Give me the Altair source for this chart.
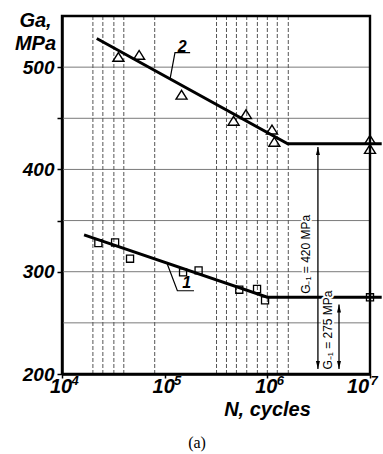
import altair as alt
import pandas as pd

# ---- data ----
tri_n = [3.54e4, 5.64e4, 1.46e5, 4.69e5, 6.19e5, 1.11e6, 1.17e6, 1.0e7, 1.0e7]
tri_s = [510, 512, 473, 447.5, 454, 439, 427, 429, 420]
line2_n = [2.18e4, 1.58e6, 1.3e7]
line2_s = [528, 425, 425]
sq_n = [2.26e4, 3.29e4, 4.6e4, 1.51e5, 2.14e5, 5.33e5, 7.94e5, 9.5e5, 1.0e7]
sq_s = [328, 328.6, 312.7, 299.3, 301.3, 282.4, 283.1, 272, 275]
line1_n = [1.64e4, 1.0e6, 1.3e7]
line1_s = [336, 275, 275]
hgrid = [250, 300, 350, 400, 450, 500]
vgrid = [2.0e4, 2.5e4, 3.2e4, 4.0e4, 8.0e4, 3.2e5, 4.0e5, 5.0e5, 6.3e5, 8.0e5,
         1.0e6, 1.25e6, 1.6e6]
x_ticks = [1e4, 1e5, 1e6, 1e7]
x_exp = ["4", "5", "6", "7"]
y_ticks = [200, 300, 350, 400, 450, 500]
frame_x = [1e4, 1e7]
frame_y = [200, 550]
arrow_n = [3.11e6, 4.99e6]
arrow_top = [422, 268]
arrow_bot = [205, 205]
arrow_labels = ["G\u208b\u2081 = 420 MPa", "G\u208b\u2081 = 275 MPa"]
arrow_lab_n = [2.37e6, 3.9e6]
arrow_lab_s = [317, 243]
cl_text = ["2", "1"]
cl_n = [1.48e5, 1.64e5]
cl_s = [520, 288.7]
lead2_n = [1.77e5, 1.26e5, 1.13e5]
lead2_s = [514.1, 514.1, 488.8]
lead1_n = [1.06e5, 1.33e5, 1.93e5]
lead1_s = [307.5, 281.4, 281.4]

XS = alt.Scale(type="log", domain=[1e4, 1e7], nice=False)
YS = alt.Scale(domain=[200, 550], nice=False, zero=False)
BI = dict(font="Liberation Sans", fontWeight="bold", fontStyle="italic")

xaxis = alt.Axis(values=x_ticks, labels=False, grid=False, tickSize=4,
                 tickColor="black", tickWidth=1.5, domain=True,
                 domainColor="black", domainWidth=2.5, domainOpacity=1,
                 title="N, cycles", titleFont="Liberation Sans",
                 titleFontWeight="bold", titleFontStyle="italic",
                 titleFontSize=20, titleX=205, titleY=35,
                 titleBaseline="middle", titleAlign="center", titleColor="black")
yaxis = alt.Axis(values=y_ticks, grid=False, tickSize=5, tickColor="black",
                 tickWidth=1.5, domain=True, domainColor="black",
                 domainWidth=2.5, domainOpacity=1,
                 labelExpr="datum.value % 100 == 0 ? datum.value : ''",
                 labelFont="Liberation Sans", labelFontWeight="bold",
                 labelFontStyle="italic", labelFontSize=19, labelColor="black",
                 labelPadding=3,
                 title=["Ga,", "MPa"], titleFont="Liberation Sans",
                 titleFontWeight="bold", titleFontStyle="italic",
                 titleFontSize=20, titleAngle=0, titleX=-27, titleY=-6,
                 titleBaseline="top", titleAlign="center", titleLineHeight=23,
                 titleColor="black")


def X(f="n"):
    return alt.X(f"{f}:Q", scale=XS, axis=xaxis)


def Y(f="s"):
    return alt.Y(f"{f}:Q", scale=YS, axis=yaxis)


hg = alt.Chart(pd.DataFrame({"s": hgrid})).mark_rule(
    color="#7a7a7a", strokeWidth=1).encode(y=Y())
vg = alt.Chart(pd.DataFrame({"n": vgrid})).mark_rule(
    color="#555555", strokeWidth=1, strokeDash=[4, 2]).encode(x=X())

# frame edges as a closed line through the four corners
fr = pd.DataFrame({"n": [frame_x[0], frame_x[1], frame_x[1], frame_x[0], frame_x[0]],
                   "s": [frame_y[0], frame_y[0], frame_y[1], frame_y[1], frame_y[0]],
                   "o": [0, 1, 2, 3, 4]})
frame = alt.Chart(fr).mark_line(color="#000000", strokeWidth=2.4,
                                strokeJoin="miter").encode(
    x=X(), y=Y(), order="o:O")

l2 = alt.Chart(pd.DataFrame({"n": line2_n, "s": line2_s})).mark_line(
    color="black", strokeWidth=3).encode(x=X(), y=Y())
l1 = alt.Chart(pd.DataFrame({"n": line1_n, "s": line1_s})).mark_line(
    color="black", strokeWidth=3).encode(x=X(), y=Y())

tri = alt.Chart(pd.DataFrame({"n": tri_n, "s": tri_s})).mark_point(
    shape="M-1,0.8L1,0.8L0,-0.8Z", size=121, filled=False, color="black",
    strokeWidth=1.4, opacity=1).encode(x=X(), y=Y())
sq = alt.Chart(pd.DataFrame({"n": sq_n, "s": sq_s})).mark_point(
    shape="square", size=50, filled=False, color="black", strokeWidth=1.3,
    opacity=1).encode(x=X(), y=Y())

arr = pd.DataFrame({"n": arrow_n, "s": arrow_bot, "top": arrow_top})
ar = alt.Chart(arr).mark_rule(color="black", strokeWidth=1.3).encode(
    x=X(), y=Y(), y2="top:Q")
ah_up = alt.Chart(pd.DataFrame({"n": arrow_n, "s": arrow_top})).mark_point(
    shape="M-1,4L1,4L0,0Z", size=16, filled=True, color="black",
    opacity=1).encode(x=X(), y=Y())
ah_dn = alt.Chart(pd.DataFrame({"n": arrow_n, "s": arrow_bot})).mark_point(
    shape="M-1,-4L1,-4L0,0Z", size=16, filled=True, color="black",
    opacity=1).encode(x=X(), y=Y())

albl = pd.DataFrame({"n": arrow_lab_n, "s": arrow_lab_s, "t": arrow_labels})
al_halo = alt.Chart(albl).mark_text(angle=270, font="Liberation Sans", fontSize=12,
                                     stroke="white", strokeWidth=4, color="white",
                                     align="center", baseline="middle").encode(
    x=X(), y=Y(), text="t:N")
al = alt.Chart(albl).mark_text(angle=270, font="Liberation Sans", fontSize=12,
                               color="black", align="center",
                               baseline="middle").encode(x=X(), y=Y(), text="t:N")

cl = alt.Chart(pd.DataFrame({"n": cl_n, "s": cl_s, "t": cl_text})).mark_text(
    fontSize=16, color="black", align="center", baseline="middle", **BI).encode(
    x=X(), y=Y(), text="t:N")
ld2 = alt.Chart(pd.DataFrame({"n": lead2_n, "s": lead2_s, "o": [0, 1, 2]})).mark_line(
    color="black", strokeWidth=1.2).encode(x=X(), y=Y(), order="o:O")
ld1 = alt.Chart(pd.DataFrame({"n": lead1_n, "s": lead1_s, "o": [0, 1, 2]})).mark_line(
    color="black", strokeWidth=1.2).encode(x=X(), y=Y(), order="o:O")

xt = pd.DataFrame({"n": x_ticks, "e": x_exp, "s": [200] * 4, "last": [0, 0, 0, 1]})
xt_base = alt.Chart(xt)
ten_a = xt_base.transform_filter("datum.last == 0").mark_text(
    text="10", fontSize=20, color="black", align="center", baseline="middle",
    dx=-1, dy=13, **BI).encode(x=X(), y=Y())
exp_a = xt_base.transform_filter("datum.last == 0").mark_text(
    fontSize=13, color="black", align="center", baseline="middle",
    dx=13, dy=7, **BI).encode(x=X(), y=Y(), text="e:N")
ten_b = xt_base.transform_filter("datum.last == 1").mark_text(
    text="10", fontSize=20, color="black", align="center", baseline="middle",
    dx=-12, dy=13, **BI).encode(x=X(), y=Y())
exp_b = xt_base.transform_filter("datum.last == 1").mark_text(
    fontSize=13, color="black", align="center", baseline="middle",
    dx=4, dy=7, **BI).encode(x=X(), y=Y(), text="e:N")

cap = alt.Chart(pd.DataFrame({"t": ["(a)"]})).mark_text(
    font="Liberation Serif", fontSize=16, color="black", align="center",
    baseline="middle").encode(text="t:N", x=alt.value(135), y=alt.value(427))

chart = alt.layer(
    hg, vg, frame, l2, l1, tri, sq, ar, ah_up, ah_dn,
    al_halo, al, cl, ld2, ld1,
    ten_a, exp_a, ten_b, exp_b, cap
).properties(
    width=308, height=358,
    autosize=alt.AutoSizeParams(type="none"),
    padding={"left": 62, "top": 16, "right": 13, "bottom": 80},
    background="white",
).configure_view(stroke="black", strokeWidth=2)

chart.save("out.html", embed_options={"renderer": "svg", "actions": False})
